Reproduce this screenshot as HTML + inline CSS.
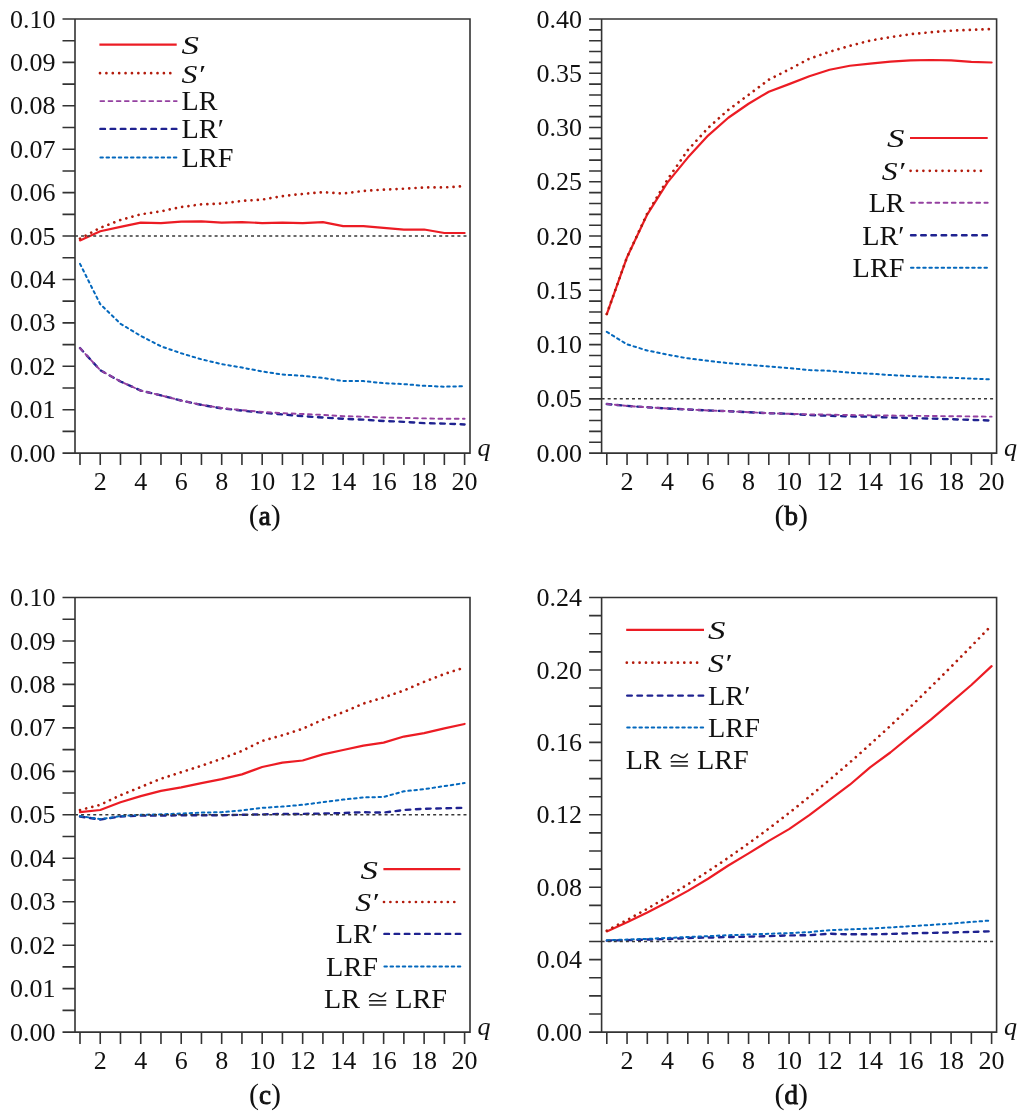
<!DOCTYPE html><html><head><meta charset="utf-8"><style>html,body{margin:0;padding:0;background:#fff;width:1024px;height:1117px;overflow:hidden}svg{display:block;font-family:"Liberation Serif", serif;will-change:transform}.tk{font-size:26px;fill:#111}.rm{font-size:26.4px;fill:#111}.it{font-size:26px;font-style:italic;fill:#111}.cap{font-size:27px;fill:#111}</style></head><body>
<svg width="1024" height="1117" viewBox="0 0 1024 1117">
<path d="M62.5 19H470V453.1H62.5M75 19V453.1" stroke="#333333" stroke-width="1.6" fill="none"/>
<path d="M62.5 431.4H75M62.5 409.69H75M62.5 387.99H75M62.5 366.28H75M62.5 344.58H75M62.5 322.87H75M62.5 301.17H75M62.5 279.46H75M62.5 257.75H75M62.5 236.05H75M62.5 214.34H75M62.5 192.64H75M62.5 170.94H75M62.5 149.23H75M62.5 127.53H75M62.5 105.82H75M62.5 84.12H75M62.5 62.41H75M62.5 40.71H75M80 453.1V465.1M100.24 453.1V465.1M120.48 453.1V465.1M140.73 453.1V465.1M160.97 453.1V465.1M181.21 453.1V465.1M201.45 453.1V465.1M221.69 453.1V465.1M241.94 453.1V465.1M262.18 453.1V465.1M282.42 453.1V465.1M302.66 453.1V465.1M322.91 453.1V465.1M343.15 453.1V465.1M363.39 453.1V465.1M383.63 453.1V465.1M403.87 453.1V465.1M424.12 453.1V465.1M444.36 453.1V465.1M464.6 453.1V465.1" stroke="#333333" stroke-width="1.6" fill="none"/>
<text x="55.4" y="461.7" text-anchor="end" class="tk">0.00</text>
<text x="55.4" y="418.29" text-anchor="end" class="tk">0.01</text>
<text x="55.4" y="374.88" text-anchor="end" class="tk">0.02</text>
<text x="55.4" y="331.47" text-anchor="end" class="tk">0.03</text>
<text x="55.4" y="288.06" text-anchor="end" class="tk">0.04</text>
<text x="55.4" y="244.65" text-anchor="end" class="tk">0.05</text>
<text x="55.4" y="201.24" text-anchor="end" class="tk">0.06</text>
<text x="55.4" y="157.83" text-anchor="end" class="tk">0.07</text>
<text x="55.4" y="114.42" text-anchor="end" class="tk">0.08</text>
<text x="55.4" y="71.01" text-anchor="end" class="tk">0.09</text>
<text x="55.4" y="27.6" text-anchor="end" class="tk">0.10</text>
<text x="100.24" y="489.8" text-anchor="middle" class="tk">2</text>
<text x="140.73" y="489.8" text-anchor="middle" class="tk">4</text>
<text x="181.21" y="489.8" text-anchor="middle" class="tk">6</text>
<text x="221.69" y="489.8" text-anchor="middle" class="tk">8</text>
<text x="262.18" y="489.8" text-anchor="middle" class="tk">10</text>
<text x="302.66" y="489.8" text-anchor="middle" class="tk">12</text>
<text x="343.15" y="489.8" text-anchor="middle" class="tk">14</text>
<text x="383.63" y="489.8" text-anchor="middle" class="tk">16</text>
<text x="424.12" y="489.8" text-anchor="middle" class="tk">18</text>
<text x="464.6" y="489.8" text-anchor="middle" class="tk">20</text>
<text x="477.5" y="455.7" class="it" font-size="25">q</text>
<polyline points="80,348.05 100.24,370.19 120.48,381.47 140.73,390.59 160.97,395.36 181.21,400.57 201.45,404.91 221.69,408.39 241.94,410.56 262.18,412.73 282.42,414.47 302.66,416.2 322.91,417.5 343.15,418.81 363.39,419.67 383.63,420.98 403.87,421.84 424.12,423.15 444.36,423.58 464.6,424.45" stroke="#1f2290" stroke-width="2.4" fill="none" stroke-linecap="round" stroke-linejoin="round" stroke-dasharray="4.6 5.6"/>
<polyline points="80,348.05 100.24,370.19 120.48,381.47 140.73,390.59 160.97,395.36 181.21,400.57 201.45,404.91 221.69,407.95 241.94,410.12 262.18,411.86 282.42,413.16 302.66,414.03 322.91,414.9 343.15,416.2 363.39,416.64 383.63,417.5 403.87,417.94 424.12,418.37 444.36,418.81 464.6,418.81" stroke="#9440a0" stroke-width="1.9" fill="none" stroke-linecap="round" stroke-linejoin="round" stroke-dasharray="3.8 4.36"/>
<polyline points="80,263.83 100.24,304.2 120.48,323.74 140.73,335.89 160.97,346.31 181.21,353.26 201.45,359.33 221.69,364.11 241.94,367.58 262.18,371.49 282.42,374.53 302.66,375.83 322.91,378 343.15,381.04 363.39,381.04 383.63,383.21 403.87,384.08 424.12,385.81 444.36,386.68 464.6,386.25" stroke="#0468bd" stroke-width="2.0" fill="none" stroke-linecap="round" stroke-linejoin="round" stroke-dasharray="2.5 3.62"/>
<polyline points="80,240.39 100.24,231.27 120.48,226.93 140.73,222.59 160.97,223.03 181.21,221.72 201.45,221.29 221.69,222.59 241.94,222.16 262.18,223.03 282.42,222.59 302.66,223.03 322.91,222.16 343.15,226.07 363.39,226.07 383.63,227.8 403.87,229.54 424.12,229.54 444.36,233.01 464.6,233.01" stroke="#ec1c24" stroke-width="2.2" fill="none" stroke-linecap="round" stroke-linejoin="round"/>
<polyline points="80,238.65 100.24,227.8 120.48,219.99 140.73,214.34 160.97,211.31 181.21,206.97 201.45,204.36 221.69,203.49 241.94,200.89 262.18,199.59 282.42,196.11 302.66,193.94 322.91,192.21 343.15,193.51 363.39,190.9 383.63,189.6 403.87,188.73 424.12,187.43 444.36,187.43 464.6,186.13" stroke="#b31b0c" stroke-width="2.7" fill="none" stroke-linecap="round" stroke-linejoin="round" stroke-dasharray="0.01 6.33"/>
<path d="M75 236.05H469" stroke="#383838" stroke-width="1.5" stroke-dasharray="3 3.07" fill="none"/>
<path d="M99.4 44.6H176.7" stroke="#ec1c24" stroke-width="2.2" fill="none" stroke-linecap="butt" stroke-linejoin="round"/>
<text transform="translate(181.5 54) scale(1.34 1)" class="it" text-anchor="start">S</text>
<path d="M100 73.2H171.7" stroke="#b31b0c" stroke-width="2.7" fill="none" stroke-linecap="round" stroke-linejoin="round" stroke-dasharray="0.01 6.38"/>
<text transform="translate(181.5 82.6) scale(1.22 1)" class="it" text-anchor="start">S′</text>
<path d="M100.4 101.1H176.7" stroke="#9440a0" stroke-width="1.9" fill="none" stroke-linecap="round" stroke-linejoin="round" stroke-dasharray="3.8 4.36"/>
<text transform="translate(181.5 110.3) scale(1.063 1)" class="rm" text-anchor="start">LR</text>
<path d="M100.4 128.9H176.7" stroke="#1f2290" stroke-width="2.4" fill="none" stroke-linecap="round" stroke-linejoin="round" stroke-dasharray="4.6 5.6"/>
<text transform="translate(181.5 138.1) scale(1.072 1)" class="rm" text-anchor="start">LR′</text>
<path d="M100.4 157.4H176.7" stroke="#0468bd" stroke-width="2.0" fill="none" stroke-linecap="round" stroke-linejoin="round" stroke-dasharray="2.5 3.62"/>
<text transform="translate(181.5 166.6) scale(1.072 1)" class="rm" text-anchor="start">LRF</text>
<path d="M589.1 19H996.6V453.1H589.1M601.6 19V453.1" stroke="#333333" stroke-width="1.6" fill="none"/>
<path d="M589.1 442.25H601.6M589.1 431.4H601.6M589.1 420.54H601.6M589.1 409.69H601.6M589.1 398.84H601.6M589.1 387.99H601.6M589.1 377.13H601.6M589.1 366.28H601.6M589.1 355.43H601.6M589.1 344.58H601.6M589.1 333.72H601.6M589.1 322.87H601.6M589.1 312.02H601.6M589.1 301.17H601.6M589.1 290.31H601.6M589.1 279.46H601.6M589.1 268.61H601.6M589.1 257.75H601.6M589.1 246.9H601.6M589.1 236.05H601.6M589.1 225.2H601.6M589.1 214.34H601.6M589.1 203.49H601.6M589.1 192.64H601.6M589.1 181.79H601.6M589.1 170.94H601.6M589.1 160.08H601.6M589.1 149.23H601.6M589.1 138.38H601.6M589.1 127.53H601.6M589.1 116.67H601.6M589.1 105.82H601.6M589.1 94.97H601.6M589.1 84.12H601.6M589.1 73.26H601.6M589.1 62.41H601.6M589.1 51.56H601.6M589.1 40.71H601.6M589.1 29.85H601.6M606.8 453.1V465.1M627.05 453.1V465.1M647.31 453.1V465.1M667.56 453.1V465.1M687.81 453.1V465.1M708.06 453.1V465.1M728.32 453.1V465.1M748.57 453.1V465.1M768.82 453.1V465.1M789.07 453.1V465.1M809.33 453.1V465.1M829.58 453.1V465.1M849.83 453.1V465.1M870.08 453.1V465.1M890.34 453.1V465.1M910.59 453.1V465.1M930.84 453.1V465.1M951.09 453.1V465.1M971.35 453.1V465.1M991.6 453.1V465.1" stroke="#333333" stroke-width="1.6" fill="none"/>
<text x="582" y="461.7" text-anchor="end" class="tk">0.00</text>
<text x="582" y="407.44" text-anchor="end" class="tk">0.05</text>
<text x="582" y="353.18" text-anchor="end" class="tk">0.10</text>
<text x="582" y="298.91" text-anchor="end" class="tk">0.15</text>
<text x="582" y="244.65" text-anchor="end" class="tk">0.20</text>
<text x="582" y="190.39" text-anchor="end" class="tk">0.25</text>
<text x="582" y="136.12" text-anchor="end" class="tk">0.30</text>
<text x="582" y="81.86" text-anchor="end" class="tk">0.35</text>
<text x="582" y="27.6" text-anchor="end" class="tk">0.40</text>
<text x="627.05" y="489.8" text-anchor="middle" class="tk">2</text>
<text x="667.56" y="489.8" text-anchor="middle" class="tk">4</text>
<text x="708.06" y="489.8" text-anchor="middle" class="tk">6</text>
<text x="748.57" y="489.8" text-anchor="middle" class="tk">8</text>
<text x="789.07" y="489.8" text-anchor="middle" class="tk">10</text>
<text x="829.58" y="489.8" text-anchor="middle" class="tk">12</text>
<text x="870.08" y="489.8" text-anchor="middle" class="tk">14</text>
<text x="910.59" y="489.8" text-anchor="middle" class="tk">16</text>
<text x="951.09" y="489.8" text-anchor="middle" class="tk">18</text>
<text x="991.6" y="489.8" text-anchor="middle" class="tk">20</text>
<text x="1004.1" y="455.7" class="it" font-size="25">q</text>
<polyline points="606.8,404.05 627.05,405.89 647.31,407.3 667.56,408.5 687.81,409.47 708.06,410.45 728.32,411.21 748.57,412.19 768.82,413.16 789.07,413.81 809.33,415.12 829.58,415.77 849.83,416.31 870.08,416.74 890.34,417.5 910.59,418.05 930.84,418.59 951.09,419.24 971.35,419.89 991.6,420.54" stroke="#1f2290" stroke-width="2.4" fill="none" stroke-linecap="round" stroke-linejoin="round" stroke-dasharray="4.6 5.6"/>
<polyline points="606.8,404.05 627.05,405.89 647.31,407.3 667.56,408.5 687.81,409.47 708.06,410.45 728.32,411.21 748.57,412.19 768.82,413.16 789.07,413.81 809.33,414.36 829.58,414.68 849.83,415.01 870.08,415.33 890.34,415.55 910.59,415.77 930.84,415.98 951.09,416.2 971.35,416.42 991.6,416.64" stroke="#9440a0" stroke-width="1.9" fill="none" stroke-linecap="round" stroke-linejoin="round" stroke-dasharray="3.8 4.36"/>
<polyline points="606.8,331.88 627.05,344.36 647.31,350.54 667.56,354.67 687.81,358.36 708.06,360.85 728.32,363.13 748.57,364.76 768.82,366.39 789.07,368.12 809.33,370.08 829.58,370.84 849.83,372.68 870.08,373.66 890.34,375.07 910.59,376.05 930.84,377.02 951.09,377.78 971.35,378.54 991.6,379.41" stroke="#0468bd" stroke-width="2.0" fill="none" stroke-linecap="round" stroke-linejoin="round" stroke-dasharray="2.5 3.62"/>
<polyline points="606.8,314.19 627.05,257.21 647.31,214.34 667.56,182.33 687.81,157.59 708.06,135.56 728.32,117.76 748.57,103.76 768.82,91.71 789.07,84.12 809.33,76.19 829.58,69.79 849.83,65.77 870.08,63.6 890.34,61.54 910.59,60.46 930.84,60.02 951.09,60.46 971.35,61.87 991.6,62.52" stroke="#ec1c24" stroke-width="2.2" fill="none" stroke-linecap="round" stroke-linejoin="round"/>
<polyline points="606.8,313.97 627.05,257.1 647.31,213.26 667.56,179.4 687.81,150.1 708.06,127.96 728.32,109.84 748.57,94.86 768.82,79.67 789.07,69.46 809.33,58.72 829.58,51.77 849.83,45.81 870.08,40.6 890.34,37.23 910.59,34.19 930.84,32.24 951.09,30.72 971.35,29.85 991.6,28.98" stroke="#b31b0c" stroke-width="2.7" fill="none" stroke-linecap="round" stroke-linejoin="round" stroke-dasharray="0.01 6.33"/>
<path d="M601.6 398.84H995.6" stroke="#383838" stroke-width="1.5" stroke-dasharray="3 3.07" fill="none"/>
<path d="M910 138H987.7" stroke="#ec1c24" stroke-width="2.2" fill="none" stroke-linecap="butt" stroke-linejoin="round"/>
<text transform="translate(904.5 147.4) scale(1.34 1)" class="it" text-anchor="end">S</text>
<path d="M910.6 170.8H982.7" stroke="#b31b0c" stroke-width="2.7" fill="none" stroke-linecap="round" stroke-linejoin="round" stroke-dasharray="0.01 6.38"/>
<text transform="translate(904.5 180.2) scale(1.22 1)" class="it" text-anchor="end">S′</text>
<path d="M911 202.8H987.7" stroke="#9440a0" stroke-width="1.9" fill="none" stroke-linecap="round" stroke-linejoin="round" stroke-dasharray="3.8 4.36"/>
<text transform="translate(904.5 212) scale(1.063 1)" class="rm" text-anchor="end">LR</text>
<path d="M911 235.3H987.7" stroke="#1f2290" stroke-width="2.4" fill="none" stroke-linecap="round" stroke-linejoin="round" stroke-dasharray="4.6 5.6"/>
<text transform="translate(904.5 244.5) scale(1.072 1)" class="rm" text-anchor="end">LR′</text>
<path d="M911 267.7H987.7" stroke="#0468bd" stroke-width="2.0" fill="none" stroke-linecap="round" stroke-linejoin="round" stroke-dasharray="2.5 3.62"/>
<text transform="translate(904.5 276.9) scale(1.072 1)" class="rm" text-anchor="end">LRF</text>
<path d="M62.5 597.5H470V1032.1H62.5M75 597.5V1032.1" stroke="#333333" stroke-width="1.6" fill="none"/>
<path d="M62.5 1010.37H75M62.5 988.64H75M62.5 966.91H75M62.5 945.18H75M62.5 923.45H75M62.5 901.72H75M62.5 879.99H75M62.5 858.26H75M62.5 836.53H75M62.5 814.8H75M62.5 793.07H75M62.5 771.34H75M62.5 749.61H75M62.5 727.88H75M62.5 706.15H75M62.5 684.42H75M62.5 662.69H75M62.5 640.96H75M62.5 619.23H75M80 1032.1V1044.1M100.24 1032.1V1044.1M120.48 1032.1V1044.1M140.73 1032.1V1044.1M160.97 1032.1V1044.1M181.21 1032.1V1044.1M201.45 1032.1V1044.1M221.69 1032.1V1044.1M241.94 1032.1V1044.1M262.18 1032.1V1044.1M282.42 1032.1V1044.1M302.66 1032.1V1044.1M322.91 1032.1V1044.1M343.15 1032.1V1044.1M363.39 1032.1V1044.1M383.63 1032.1V1044.1M403.87 1032.1V1044.1M424.12 1032.1V1044.1M444.36 1032.1V1044.1M464.6 1032.1V1044.1" stroke="#333333" stroke-width="1.6" fill="none"/>
<text x="55.4" y="1040.7" text-anchor="end" class="tk">0.00</text>
<text x="55.4" y="997.24" text-anchor="end" class="tk">0.01</text>
<text x="55.4" y="953.78" text-anchor="end" class="tk">0.02</text>
<text x="55.4" y="910.32" text-anchor="end" class="tk">0.03</text>
<text x="55.4" y="866.86" text-anchor="end" class="tk">0.04</text>
<text x="55.4" y="823.4" text-anchor="end" class="tk">0.05</text>
<text x="55.4" y="779.94" text-anchor="end" class="tk">0.06</text>
<text x="55.4" y="736.48" text-anchor="end" class="tk">0.07</text>
<text x="55.4" y="693.02" text-anchor="end" class="tk">0.08</text>
<text x="55.4" y="649.56" text-anchor="end" class="tk">0.09</text>
<text x="55.4" y="606.1" text-anchor="end" class="tk">0.10</text>
<text x="100.24" y="1068.8" text-anchor="middle" class="tk">2</text>
<text x="140.73" y="1068.8" text-anchor="middle" class="tk">4</text>
<text x="181.21" y="1068.8" text-anchor="middle" class="tk">6</text>
<text x="221.69" y="1068.8" text-anchor="middle" class="tk">8</text>
<text x="262.18" y="1068.8" text-anchor="middle" class="tk">10</text>
<text x="302.66" y="1068.8" text-anchor="middle" class="tk">12</text>
<text x="343.15" y="1068.8" text-anchor="middle" class="tk">14</text>
<text x="383.63" y="1068.8" text-anchor="middle" class="tk">16</text>
<text x="424.12" y="1068.8" text-anchor="middle" class="tk">18</text>
<text x="464.6" y="1068.8" text-anchor="middle" class="tk">20</text>
<text x="477.5" y="1034.7" class="it" font-size="25">q</text>
<polyline points="80,816.54 100.24,819.58 120.48,816.54 140.73,815.67 160.97,815.67 181.21,815.23 201.45,815.23 221.69,815.23 241.94,814.8 262.18,814.37 282.42,813.93 302.66,813.93 322.91,813.5 343.15,813.06 363.39,812.19 383.63,812.63 403.87,810.02 424.12,808.72 444.36,808.28 464.6,807.85" stroke="#1f2290" stroke-width="2.4" fill="none" stroke-linecap="round" stroke-linejoin="round" stroke-dasharray="4.6 5.6"/>
<polyline points="80,816.1 100.24,819.15 120.48,816.1 140.73,814.8 160.97,814.37 181.21,813.5 201.45,812.63 221.69,812.19 241.94,810.45 262.18,807.85 282.42,806.54 302.66,804.8 322.91,802.2 343.15,799.59 363.39,797.42 383.63,796.98 403.87,791.33 424.12,789.16 444.36,786.12 464.6,783.07" stroke="#0468bd" stroke-width="2.0" fill="none" stroke-linecap="round" stroke-linejoin="round" stroke-dasharray="2.5 3.62"/>
<polyline points="80,812.19 100.24,810.02 120.48,802.2 140.73,796.11 160.97,790.9 181.21,787.42 201.45,783.07 221.69,779.16 241.94,774.38 262.18,766.99 282.42,762.65 302.66,760.47 322.91,754.39 343.15,750.04 363.39,745.7 383.63,742.66 403.87,736.57 424.12,733.1 444.36,728.31 464.6,723.97" stroke="#ec1c24" stroke-width="2.2" fill="none" stroke-linecap="round" stroke-linejoin="round"/>
<polyline points="80,810.02 100.24,804.8 120.48,795.24 140.73,786.99 160.97,778.73 181.21,772.21 201.45,765.69 221.69,758.74 241.94,750.91 262.18,740.92 282.42,735.27 302.66,728.75 322.91,719.62 343.15,712.23 363.39,703.54 383.63,697.46 403.87,690.5 424.12,681.81 444.36,673.99 464.6,667.47" stroke="#b31b0c" stroke-width="2.7" fill="none" stroke-linecap="round" stroke-linejoin="round" stroke-dasharray="0.01 6.33"/>
<path d="M75 814.8H469" stroke="#383838" stroke-width="1.5" stroke-dasharray="3 3.07" fill="none"/>
<path d="M383.4 869.1H460.3" stroke="#ec1c24" stroke-width="2.2" fill="none" stroke-linecap="butt" stroke-linejoin="round"/>
<text transform="translate(378 878.5) scale(1.34 1)" class="it" text-anchor="end">S</text>
<path d="M384 902H455.3" stroke="#b31b0c" stroke-width="2.7" fill="none" stroke-linecap="round" stroke-linejoin="round" stroke-dasharray="0.01 6.38"/>
<text transform="translate(378 911.4) scale(1.22 1)" class="it" text-anchor="end">S′</text>
<path d="M384.4 933.9H460.3" stroke="#1f2290" stroke-width="2.4" fill="none" stroke-linecap="round" stroke-linejoin="round" stroke-dasharray="4.6 5.6"/>
<text transform="translate(378 943.1) scale(1.072 1)" class="rm" text-anchor="end">LR′</text>
<path d="M384.4 966.4H460.3" stroke="#0468bd" stroke-width="2.0" fill="none" stroke-linecap="round" stroke-linejoin="round" stroke-dasharray="2.5 3.62"/>
<text transform="translate(378 975.6) scale(1.072 1)" class="rm" text-anchor="end">LRF</text>
<text transform="translate(324.1 1007.9) scale(1.063 1)" class="rm">LR</text>
<g stroke="#1a1a1a" stroke-width="1.45" fill="none" stroke-linecap="round"><path d="M369.5 997.3C371.4 992.9 374.4 992.9 377.5 995.1S383.4 997.3 385.7 992.9"/><path d="M369.6 1000.8H385.7M369.6 1005H385.7"/></g>
<text transform="translate(395.2 1007.9) scale(1.072 1)" class="rm">LRF</text>
<path d="M589.1 597.5H996.6V1032.1H589.1M601.6 597.5V1032.1" stroke="#333333" stroke-width="1.6" fill="none"/>
<path d="M589.1 1013.99H601.6M589.1 995.88H601.6M589.1 977.77H601.6M589.1 959.67H601.6M589.1 941.56H601.6M589.1 923.45H601.6M589.1 905.34H601.6M589.1 887.23H601.6M589.1 869.12H601.6M589.1 851.02H601.6M589.1 832.91H601.6M589.1 814.8H601.6M589.1 796.69H601.6M589.1 778.58H601.6M589.1 760.47H601.6M589.1 742.37H601.6M589.1 724.26H601.6M589.1 706.15H601.6M589.1 688.04H601.6M589.1 669.93H601.6M589.1 651.83H601.6M589.1 633.72H601.6M589.1 615.61H601.6M606.8 1032.1V1044.1M627.05 1032.1V1044.1M647.31 1032.1V1044.1M667.56 1032.1V1044.1M687.81 1032.1V1044.1M708.06 1032.1V1044.1M728.32 1032.1V1044.1M748.57 1032.1V1044.1M768.82 1032.1V1044.1M789.07 1032.1V1044.1M809.33 1032.1V1044.1M829.58 1032.1V1044.1M849.83 1032.1V1044.1M870.08 1032.1V1044.1M890.34 1032.1V1044.1M910.59 1032.1V1044.1M930.84 1032.1V1044.1M951.09 1032.1V1044.1M971.35 1032.1V1044.1M991.6 1032.1V1044.1" stroke="#333333" stroke-width="1.6" fill="none"/>
<text x="582" y="1040.7" text-anchor="end" class="tk">0.00</text>
<text x="582" y="968.27" text-anchor="end" class="tk">0.04</text>
<text x="582" y="895.83" text-anchor="end" class="tk">0.08</text>
<text x="582" y="823.4" text-anchor="end" class="tk">0.12</text>
<text x="582" y="750.97" text-anchor="end" class="tk">0.16</text>
<text x="582" y="678.53" text-anchor="end" class="tk">0.20</text>
<text x="582" y="606.1" text-anchor="end" class="tk">0.24</text>
<text x="627.05" y="1068.8" text-anchor="middle" class="tk">2</text>
<text x="667.56" y="1068.8" text-anchor="middle" class="tk">4</text>
<text x="708.06" y="1068.8" text-anchor="middle" class="tk">6</text>
<text x="748.57" y="1068.8" text-anchor="middle" class="tk">8</text>
<text x="789.07" y="1068.8" text-anchor="middle" class="tk">10</text>
<text x="829.58" y="1068.8" text-anchor="middle" class="tk">12</text>
<text x="870.08" y="1068.8" text-anchor="middle" class="tk">14</text>
<text x="910.59" y="1068.8" text-anchor="middle" class="tk">16</text>
<text x="951.09" y="1068.8" text-anchor="middle" class="tk">18</text>
<text x="991.6" y="1068.8" text-anchor="middle" class="tk">20</text>
<text x="1004.1" y="1034.7" class="it" font-size="25">q</text>
<polyline points="606.8,940.65 627.05,940.11 647.31,939.57 667.56,939.02 687.81,937.94 708.06,937.57 728.32,937.03 748.57,936.67 768.82,936.13 789.07,935.4 809.33,935.22 829.58,933.77 849.83,934.31 870.08,934.31 890.34,933.95 910.59,933.23 930.84,932.87 951.09,932.5 971.35,931.96 991.6,931.24" stroke="#1f2290" stroke-width="2.4" fill="none" stroke-linecap="round" stroke-linejoin="round" stroke-dasharray="4.6 5.6"/>
<polyline points="606.8,940.29 627.05,939.57 647.31,938.84 667.56,937.94 687.81,937.03 708.06,936.13 728.32,935.22 748.57,934.5 768.82,933.77 789.07,933.05 809.33,932.14 829.58,930.15 849.83,929.43 870.08,928.52 890.34,927.43 910.59,926.17 930.84,924.9 951.09,923.63 971.35,922 991.6,920.37" stroke="#0468bd" stroke-width="2.0" fill="none" stroke-linecap="round" stroke-linejoin="round" stroke-dasharray="2.5 3.62"/>
<polyline points="606.8,931.42 627.05,922.36 647.31,912.58 667.56,902.08 687.81,890.85 708.06,878.72 728.32,865.5 748.57,853.37 768.82,840.88 789.07,829.11 809.33,815.16 829.58,799.77 849.83,784.74 870.08,767.36 890.34,752.51 910.59,735.85 930.84,719.55 951.09,702.35 971.35,684.96 991.6,666.13" stroke="#ec1c24" stroke-width="2.2" fill="none" stroke-linecap="round" stroke-linejoin="round"/>
<polyline points="606.8,930.69 627.05,920.01 647.31,908.78 667.56,896.83 687.81,884.34 708.06,871.3 728.32,857.72 748.57,843.41 768.82,828.56 789.07,812.99 809.33,796.69 829.58,779.85 849.83,762.47 870.08,744.36 890.34,725.89 910.59,706.69 930.84,686.96 951.09,666.85 971.35,646.21 991.6,625.39" stroke="#b31b0c" stroke-width="2.7" fill="none" stroke-linecap="round" stroke-linejoin="round" stroke-dasharray="0.01 6.33"/>
<path d="M601.6 941.56H995.6" stroke="#383838" stroke-width="1.5" stroke-dasharray="3 3.07" fill="none"/>
<path d="M626.2 629.9H704" stroke="#ec1c24" stroke-width="2.2" fill="none" stroke-linecap="butt" stroke-linejoin="round"/>
<text transform="translate(708 639.3) scale(1.34 1)" class="it" text-anchor="start">S</text>
<path d="M626.8 662.7H699" stroke="#b31b0c" stroke-width="2.7" fill="none" stroke-linecap="round" stroke-linejoin="round" stroke-dasharray="0.01 6.38"/>
<text transform="translate(708 672.1) scale(1.22 1)" class="it" text-anchor="start">S′</text>
<path d="M627.2 695.6H704" stroke="#1f2290" stroke-width="2.4" fill="none" stroke-linecap="round" stroke-linejoin="round" stroke-dasharray="4.6 5.6"/>
<text transform="translate(708 704.8) scale(1.072 1)" class="rm" text-anchor="start">LR′</text>
<path d="M627.2 727.4H704" stroke="#0468bd" stroke-width="2.0" fill="none" stroke-linecap="round" stroke-linejoin="round" stroke-dasharray="2.5 3.62"/>
<text transform="translate(708 736.6) scale(1.072 1)" class="rm" text-anchor="start">LRF</text>
<text transform="translate(625.8 768.9) scale(1.063 1)" class="rm">LR</text>
<g stroke="#1a1a1a" stroke-width="1.45" fill="none" stroke-linecap="round"><path d="M671.2 758.3C673.1 753.9 676.1 753.9 679.2 756.1S685.1 758.3 687.4 753.9"/><path d="M671.3 761.8H687.4M671.3 766H687.4"/></g>
<text transform="translate(696.9 768.9) scale(1.072 1)" class="rm">LRF</text>
<text x="264.7" y="524.6" text-anchor="middle" class="cap"><tspan font-size="30">(</tspan><tspan stroke="#111" stroke-width="0.9">a</tspan><tspan font-size="30">)</tspan></text>
<text x="791.2" y="524.6" text-anchor="middle" class="cap"><tspan font-size="30">(</tspan><tspan stroke="#111" stroke-width="0.9">b</tspan><tspan font-size="30">)</tspan></text>
<text x="264.9" y="1103.7" text-anchor="middle" class="cap"><tspan font-size="30">(</tspan><tspan stroke="#111" stroke-width="0.9">c</tspan><tspan font-size="30">)</tspan></text>
<text x="791.3" y="1103.7" text-anchor="middle" class="cap"><tspan font-size="30">(</tspan><tspan stroke="#111" stroke-width="0.9">d</tspan><tspan font-size="30">)</tspan></text>
</svg></body></html>
